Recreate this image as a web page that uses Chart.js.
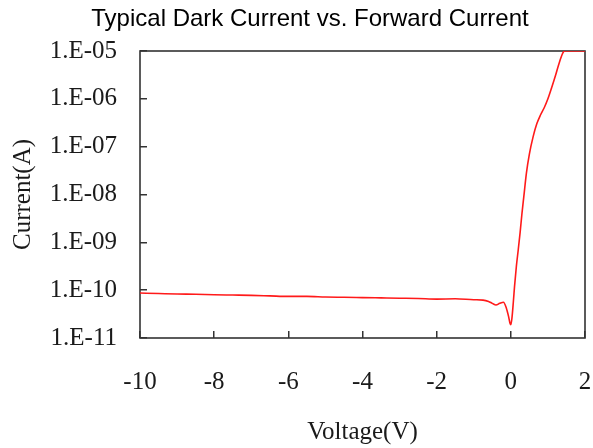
<!DOCTYPE html>
<html>
<head>
<meta charset="utf-8">
<script src="https://cdn.jsdelivr.net/npm/chart.js@4.4.0/dist/chart.umd.min.js"></script>
<style>
  html, body { margin: 0; padding: 0; background: #fff; }
  #wrap { width: 593px; height: 448px; position: relative; }
</style>
</head>
<body>
<div id="wrap"><canvas id="chart"></canvas></div>
<script>
// Data
const chartTitle = 'Typical Dark Current vs. Forward Current';
const voltage = [-10, -9.5, -9, -8.5, -8, -7.5, -7, -6.5, -6, -5.5, -5, -4.5, -4, -3.5, -3, -2.5, -2, -1.5, -1,
  -0.75, -0.6, -0.5, -0.4, -0.3, -0.2, -0.12, -0.06, -0.02, 0, 0.03, 0.07, 0.1, 0.15, 0.2, 0.25, 0.3, 0.35,
  0.42, 0.5, 0.6, 0.7, 0.8, 0.9, 1.0, 1.1, 1.2, 1.3, 1.4, 1.45, 1.6, 1.8, 2.0];
const current = [8.7e-11, 8.5e-11, 8.3e-11, 8.2e-11, 8.0e-11, 7.9e-11, 7.8e-11, 7.6e-11, 7.4e-11, 7.4e-11,
  7.2e-11, 7.1e-11, 7.0e-11, 6.9e-11, 6.8e-11, 6.7e-11, 6.5e-11, 6.6e-11, 6.3e-11,
  6.2e-11, 5.8e-11, 5.3e-11, 4.9e-11, 5.3e-11, 5.6e-11, 4.2e-11, 2.8e-11, 2.0e-11, 1.9e-11, 2.6e-11, 6e-11,
  1.2e-10, 3.2e-10, 7e-10, 1.6e-9, 4e-9, 9e-9,
  2.8e-8, 7e-8, 1.6e-7, 3e-7, 4.6e-7, 6.5e-7, 1.0e-6, 1.7e-6, 3.0e-6, 5.5e-6, 9e-6, 1e-5, 1e-5, 1e-5, 1e-5];
const xTicks = [-10, -8, -6, -4, -2, 0, 2];
const yTicks = [1e-11, 1e-10, 1e-9, 1e-8, 1e-7, 1e-6, 1e-5];
const yTickLabels = ['1.E-11', '1.E-10', '1.E-09', '1.E-08', '1.E-07', '1.E-06', '1.E-05'];

const serif = 'Liberation Serif, Times New Roman, serif';
const textColor = '#1a1a1a';

// frame around the plot area (under the curve) and the title
const framePlugin = {
  id: 'frame',
  beforeDatasetsDraw(chart) {
    const { ctx, chartArea: a } = chart;
    ctx.save();
    ctx.strokeStyle = '#333';
    ctx.lineWidth = 1.6;
    ctx.strokeRect(a.left, a.top, a.right - a.left, a.bottom - a.top);
    ctx.restore();
  },
  afterDraw(chart) {
    const { ctx } = chart;
    ctx.save();
    ctx.fillStyle = '#000';
    ctx.font = '24px Liberation Sans, Arial, sans-serif';
    ctx.textAlign = 'center';
    ctx.textBaseline = 'middle';
    ctx.fillText(chartTitle, 310, 19);
    ctx.restore();
  }
};

const ctx = document.getElementById('chart').getContext('2d');
new Chart(ctx, {
  type: 'line',
  data: {
    datasets: [{
      data: voltage.map((v, i) => ({ x: v, y: current[i] })),
      borderColor: '#ff1a1a',
      borderWidth: 1.6,
      pointRadius: 0,
      fill: false,
      cubicInterpolationMode: 'monotone',
    }],
  },
  options: {
    responsive: true,
    maintainAspectRatio: false,
    animation: false,
    layout: { padding: { top: 51, right: 8, left: 0, bottom: 0 } },
    plugins: { legend: { display: false }, tooltip: { enabled: false } },
    scales: {
      x: {
        type: 'linear',
        min: -10,
        max: 2,
        afterBuildTicks: (scale) => { scale.ticks = xTicks.map((v) => ({ value: v })); },
        afterFit: (scale) => {
          scale.height = 110;
          scale.paddingLeft = 0;
          scale.paddingRight = 0;
        },
        border: { display: false },
        grid: { drawOnChartArea: false, tickLength: -7, color: '#333', lineWidth: 1.5 },
        ticks: { padding: 36, color: textColor, font: { family: serif, size: 25 } },
        title: { display: true, text: 'Voltage(V)', color: textColor, font: { family: serif, size: 25 }, padding: { top: 0, bottom: 1 } },
      },
      y: {
        type: 'logarithmic',
        min: 1e-11,
        max: 1e-5,
        afterBuildTicks: (scale) => { scale.ticks = yTicks.map((v) => ({ value: v })); },
        afterFit: (scale) => { scale.width = 140; },
        border: { display: false },
        grid: { drawOnChartArea: false, tickLength: -7, color: '#333', lineWidth: 1.5 },
        ticks: {
          padding: 30,
          color: textColor,
          font: { family: serif, size: 25 },
          callback: (v, i) => yTickLabels[i],
        },
        title: { display: true, text: 'Current(A)', color: textColor, font: { family: serif, size: 25 }, padding: { top: 8, bottom: 0 } },
      },
    },
  },
  plugins: [framePlugin],
});
</script>
</body>
</html>
